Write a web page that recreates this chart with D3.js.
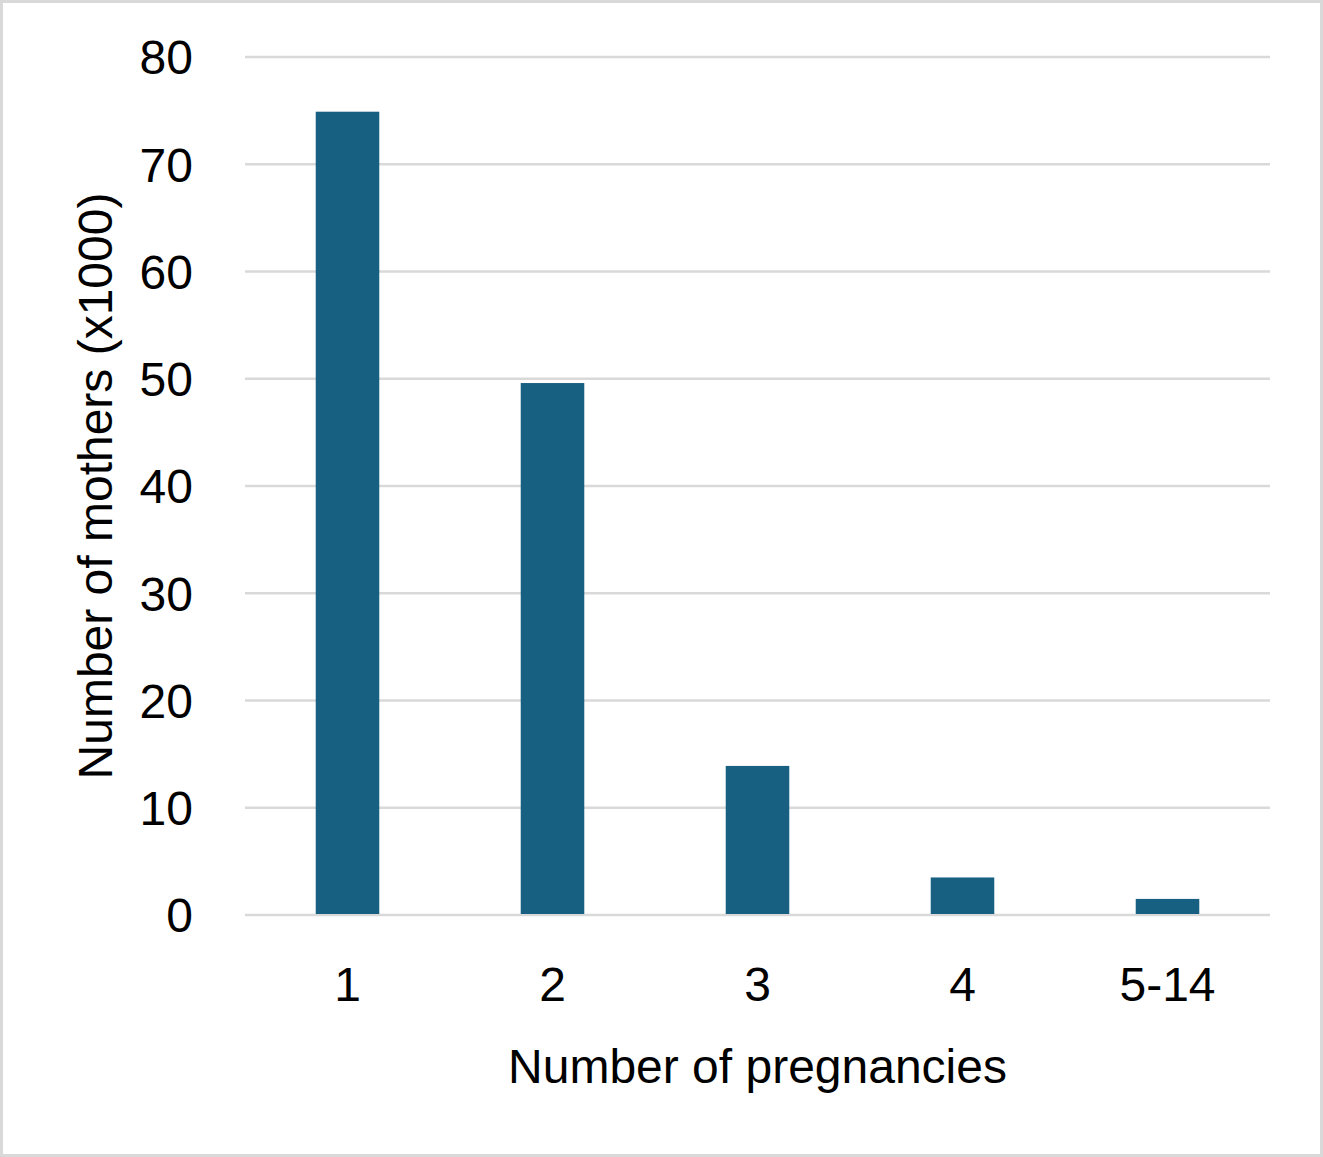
<!DOCTYPE html>
<html>
<head>
<meta charset="utf-8">
<script src="https://cdn.jsdelivr.net/npm/d3@7"></script>
<style>
  body { margin: 0; background: #fff; }
  svg { display: block; font-family: "Liberation Sans", Arial, sans-serif; }
</style>
</head>
<body>
<div id="chart"></div>
<script>
const CATEGORIES = ["1", "2", "3", "4", "5-14"];
const MOTHERS = [74.9, 49.6, 13.9, 3.5, 1.5];
const Y_TICKS = [0, 10, 20, 30, 40, 50, 60, 70, 80];
const X_TITLE = "Number of pregnancies";
const Y_TITLE = "Number of mothers (x1000)";

const WIDTH = 1323, HEIGHT = 1157;
const MARGIN = { top: 57, right: 53, bottom: 242, left: 245 };
const BAR_COLOR = "#186082";
const GRID_COLOR = "#d9d9d9";
const FONT_SIZE = 48;

const svg = d3.select("#chart")
              .append("svg")
              .attr("width", WIDTH)
              .attr("height", HEIGHT);

// outer frame
svg.append("rect")
   .attr("x", 1.5).attr("y", 1.5)
   .attr("width", WIDTH - 3).attr("height", HEIGHT - 3)
   .attr("fill", "#fff")
   .attr("stroke", GRID_COLOR)
   .attr("stroke-width", 3);

const x = d3.scaleBand()
            .domain(CATEGORIES)
            .range([MARGIN.left, WIDTH - MARGIN.right])
            .paddingInner(0.69)
            .paddingOuter(0.345);

const y = d3.scaleLinear()
            .domain([0, 80])
            .range([HEIGHT - MARGIN.bottom, MARGIN.top]);

// gridlines
svg.append("g")
   .selectAll("line")
   .data(Y_TICKS)
   .join("line")
   .attr("x1", MARGIN.left)
   .attr("x2", WIDTH - MARGIN.right)
   .attr("y1", d => y(d))
   .attr("y2", d => y(d))
   .attr("stroke", GRID_COLOR)
   .attr("stroke-width", 2.5);

// bars
svg.append("g")
   .selectAll("rect")
   .data(MOTHERS)
   .join("rect")
   .attr("x", (d, i) => x(CATEGORIES[i]))
   .attr("y", d => y(d))
   .attr("width", x.bandwidth())
   .attr("height", d => y(0) - y(d) - 1)
   .attr("fill", BAR_COLOR);

// y axis labels
const yAxis = svg.append("g")
                 .attr("transform", `translate(${MARGIN.left - 52},0)`)
                 .call(d3.axisLeft(y).tickValues(Y_TICKS).tickSize(0).tickPadding(0));
yAxis.select(".domain").remove();
yAxis.selectAll("text")
     .attr("font-size", FONT_SIZE)
     .attr("font-family", "Liberation Sans, Arial, sans-serif")
     .attr("fill", "#000")
     .attr("dy", "0.35em");

// x axis labels
const xAxis = svg.append("g")
                 .attr("transform", `translate(0,${HEIGHT - MARGIN.bottom})`)
                 .call(d3.axisBottom(x).tickSize(0).tickPadding(52));
xAxis.select(".domain").remove();
xAxis.selectAll("text")
     .attr("font-size", FONT_SIZE)
     .attr("font-family", "Liberation Sans, Arial, sans-serif")
     .attr("fill", "#000");

// axis titles
svg.append("text")
   .attr("x", (MARGIN.left + WIDTH - MARGIN.right) / 2)
   .attr("y", 1083)
   .attr("text-anchor", "middle")
   .attr("font-size", FONT_SIZE)
   .attr("fill", "#000")
   .text(X_TITLE);

svg.append("text")
   .attr("transform", `translate(112,${(y(0) + y(80)) / 2}) rotate(-90)`)
   .attr("text-anchor", "middle")
   .attr("font-size", FONT_SIZE)
   .attr("fill", "#000")
   .text(Y_TITLE);
</script>
</body>
</html>
